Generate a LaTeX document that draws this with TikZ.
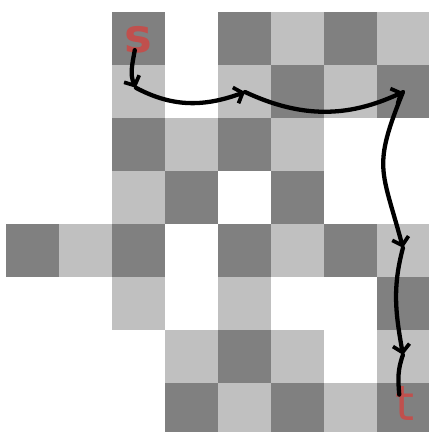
\documentclass[tikz,border=0pt]{standalone}
\usepackage{fontspec}
\setsansfont{DejaVu Sans}
\usetikzlibrary{arrows.meta}
\definecolor{celldark}{RGB}{128,128,128}
\definecolor{celllight}{RGB}{192,192,192}
\definecolor{labelred}{RGB}{192,80,77}
\begin{document}
\begin{tikzpicture}[x=1cm,y=1cm]
\tikzstyle{dark}=[fill=celldark]
\tikzstyle{light}=[fill=celllight]
\tikzstyle{endlabel}=[text=labelred,font=\sffamily\fontsize{25}{25}\selectfont,inner sep=0pt]
\tikzstyle{hop}=[line width=2.3pt,line cap=round,-{Straight Barb[length=4pt,width=9pt,line width=2pt]}]
\useasboundingbox (-0.113,0.226) rectangle (7.98,-7.925);
% row 0
\fill[dark] (2,0) rectangle (3,-1);
\fill[dark] (4,0) rectangle (5,-1);
\fill[light] (5,0) rectangle (6,-1);
\fill[dark] (6,0) rectangle (7,-1);
\fill[light] (7,0) rectangle (8,-1);
% row 1
\fill[light] (2,-1) rectangle (3,-2);
\fill[light] (4,-1) rectangle (5,-2);
\fill[dark] (5,-1) rectangle (6,-2);
\fill[light] (6,-1) rectangle (7,-2);
\fill[dark] (7,-1) rectangle (8,-2);
% row 2
\fill[dark] (2,-2) rectangle (3,-3);
\fill[light] (3,-2) rectangle (4,-3);
\fill[dark] (4,-2) rectangle (5,-3);
\fill[light] (5,-2) rectangle (6,-3);
% row 3
\fill[light] (2,-3) rectangle (3,-4);
\fill[dark] (3,-3) rectangle (4,-4);
\fill[dark] (5,-3) rectangle (6,-4);
% row 4
\fill[dark] (0,-4) rectangle (1,-5);
\fill[light] (1,-4) rectangle (2,-5);
\fill[dark] (2,-4) rectangle (3,-5);
\fill[dark] (4,-4) rectangle (5,-5);
\fill[light] (5,-4) rectangle (6,-5);
\fill[dark] (6,-4) rectangle (7,-5);
\fill[light] (7,-4) rectangle (8,-5);
% row 5
\fill[light] (2,-5) rectangle (3,-6);
\fill[light] (4,-5) rectangle (5,-6);
\fill[dark] (7,-5) rectangle (8,-6);
% row 6
\fill[light] (3,-6) rectangle (4,-7);
\fill[dark] (4,-6) rectangle (5,-7);
\fill[light] (5,-6) rectangle (6,-7);
\fill[light] (7,-6) rectangle (8,-7);
% row 7
\fill[dark] (3,-7) rectangle (4,-8);
\fill[light] (4,-7) rectangle (5,-8);
\fill[dark] (5,-7) rectangle (6,-8);
\fill[light] (6,-7) rectangle (7,-8);
\fill[dark] (7,-7) rectangle (8,-8);
% start and target
\node[endlabel,font=\sffamily\bfseries\fontsize{25}{25}\selectfont] (s) at (2.5,-0.52) {s};
\node[endlabel,font=\sffamily\fontsize{26}{26}\selectfont] (t) at (7.52,-7.38) {t};
\coordinate (p1) at (2.45,-1.43);
\coordinate (p2) at (4.51,-1.51);
\coordinate (p3) at (7.49,-1.51);
\coordinate (p4) at (7.49,-4.45);
\coordinate (p5) at (7.49,-6.47);
% path
\draw[hop] (2.43,-0.72) to[out=-100,in=115] (p1);
\draw[hop] (p1) to[out=-28,in=-160] (p2);
\draw[hop] (p2) to[out=-25,in=-155] (p3);
\draw[hop] (p3) to[out=-112,in=105,looseness=1.35] (p4);
\draw[hop] (p4) to[out=-105,in=100] (p5);
\draw[line width=2.3pt,line cap=round] (p5) to[out=-110,in=95] (7.42,-7.22);
\end{tikzpicture}
\end{document}
